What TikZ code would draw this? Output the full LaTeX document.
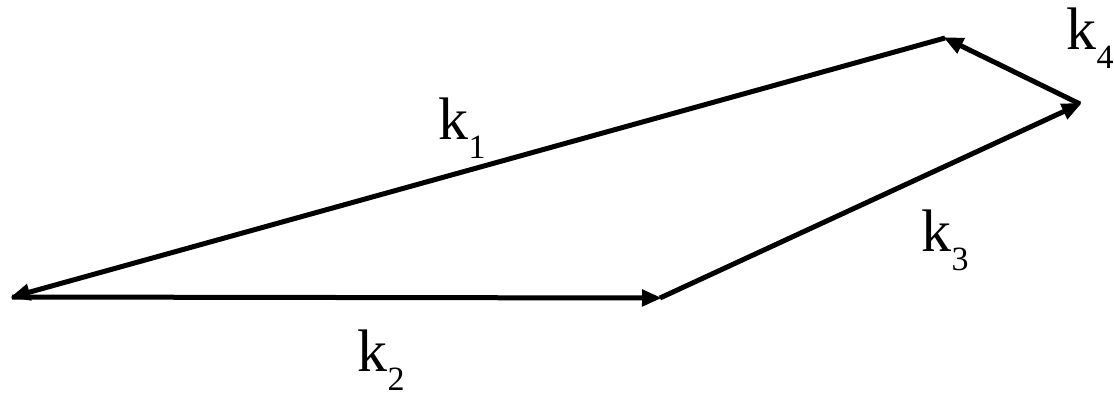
\documentclass[tikz,border=0pt]{standalone}
\usepackage{fontspec}
\setmainfont{Liberation Serif}
\usetikzlibrary{arrows.meta}
\newcommand{\kk}[1]{k\raisebox{-0.32em}{\fontsize{34}{34}\selectfont #1}}
\tikzset{
  vec/.style={line width=5pt, -{Triangle[length=20pt,width=16pt]}, shorten >=-2pt},
  lab/.style={font=\fontsize{60}{60}\selectfont, inner sep=0pt}
}
\begin{document}
\begin{tikzpicture}[x=1pt,y=-1pt]
\useasboundingbox (0,0) rectangle (1114,398);
\fill[white] (0,0) rectangle (1114,398);
\coordinate (A) at (12,297);
\coordinate (B) at (660,298);
\coordinate (C) at (1080,104);
\coordinate (D) at (945,38);
\draw[vec] (D) -- (A);
\draw[vec] (A) -- (B);
\draw[vec] (B) -- (C);
\draw[vec] (C) -- (D);
\node[lab] (k1) at (462,128) {\kk{1}};
\node[lab] (k2) at (381,360) {\kk{2}};
\node[lab] (k3) at (945,240) {\kk{3}};
\node[lab] (k4) at (1090,38) {\kk{4}};
\end{tikzpicture}
\end{document}
